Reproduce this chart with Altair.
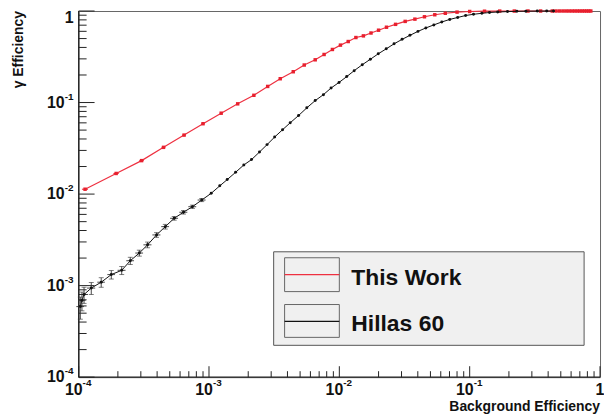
import altair as alt
import pandas as pd

# ---------------- data ----------------
series_names = ["This Work", "Hillas 60"]
series_colors = ["#e8202e", "#111111"]

red_x = [1.12e-4, 1.94e-4, 3.04e-4, 4.48e-4, 6.44e-4, 9.0e-4, 1.24e-3, 1.66e-3,
         2.21e-3, 2.82e-3, 3.52e-3, 4.43e-3, 5.38e-3, 6.53e-3, 7.64e-3, 8.85e-3,
         1.02e-2, 1.17e-2, 1.34e-2, 1.53e-2, 1.75e-2, 2.0e-2, 2.3e-2, 2.7e-2,
         3.2e-2, 3.8e-2, 4.5e-2, 5.4e-2, 6.5e-2, 8.0e-2, 0.10, 0.13, 0.17, 0.22,
         0.28, 0.35, 0.43, 0.46, 0.49, 0.52, 0.55, 0.58, 0.61, 0.64, 0.67, 0.70,
         0.73, 0.76, 0.79, 0.82, 0.85]
red_y = [0.0113, 0.0168, 0.0232, 0.0324, 0.0441, 0.0587, 0.0765, 0.0968,
         0.120, 0.150, 0.182, 0.217, 0.257, 0.293, 0.335, 0.380,
         0.424, 0.464, 0.513, 0.535, 0.575, 0.617, 0.665, 0.715,
         0.770, 0.815, 0.865, 0.910, 0.945, 0.972, 0.988, 0.995, 0.998, 0.999,
         1.0, 1.0, 1.0, 1.0, 1.0, 1.0, 1.0, 1.0, 1.0, 1.0, 1.0, 1.0,
         1.0, 1.0, 1.0, 1.0, 1.0]
red_xerr = [0.6e-5, 0.9e-5, 1.2e-5, 1.5e-5, 2.0e-5, 2.6e-5]

black_x = [1.03e-4, 1.06e-4, 1.10e-4, 1.25e-4, 1.49e-4, 1.78e-4, 2.14e-4, 2.49e-4,
           2.92e-4, 3.38e-4, 3.96e-4, 4.62e-4, 5.41e-4, 6.37e-4, 7.46e-4, 8.80e-4,
           1.04e-3, 1.21e-3, 1.38e-3, 1.60e-3, 1.85e-3, 2.12e-3, 2.44e-3, 2.79e-3,
           3.19e-3, 3.67e-3, 4.20e-3, 4.87e-3, 5.63e-3, 6.53e-3, 7.55e-3, 8.64e-3,
           9.95e-3, 1.14e-2, 1.30e-2, 1.50e-2, 1.73e-2, 1.99e-2, 2.29e-2, 2.63e-2,
           3.03e-2, 3.48e-2, 4.01e-2, 4.61e-2, 5.31e-2, 6.11e-2, 7.03e-2, 8.09e-2,
           9.31e-2, 0.107, 0.124, 0.142, 0.164, 0.195, 0.23, 0.27, 0.33, 0.39, 0.44]
black_y = [5.9e-4, 6.9e-4, 8.0e-4, 9.4e-4, 1.09e-3, 1.32e-3, 1.47e-3, 1.87e-3,
           2.27e-3, 2.79e-3, 3.58e-3, 4.41e-3, 5.44e-3, 6.33e-3, 7.28e-3, 8.61e-3,
           0.0102, 0.0123, 0.0144, 0.0173, 0.0208, 0.0238, 0.0288, 0.0347,
           0.0420, 0.0505, 0.0601, 0.0722, 0.0875, 0.105, 0.122, 0.144,
           0.166, 0.192, 0.223, 0.259, 0.297, 0.341, 0.386, 0.438,
           0.490, 0.542, 0.599, 0.653, 0.705, 0.759, 0.809, 0.850,
           0.893, 0.921, 0.944, 0.963, 0.975, 0.985, 0.992, 0.996, 0.998, 0.999, 1.0]
black_yerr = [1.6e-4, 1.6e-4, 1.6e-4, 1.4e-4, 1.3e-4, 1.4e-4, 1.5e-4, 1.7e-4,
              1.7e-4, 2.0e-4, 2.1e-4, 2.6e-4, 2.5e-4, 2.8e-4, 3.0e-4, 3.4e-4]
black_xerr = [0.7e-5, 0.7e-5, 0.8e-5, 0.9e-5, 1.0e-5, 1.2e-5, 1.5e-5, 1.7e-5,
              2.0e-5, 2.4e-5, 2.8e-5, 3.2e-5, 3.8e-5, 4.5e-5, 5.2e-5, 6.2e-5]

major_ticks = [1e-4, 1e-3, 1e-2, 1e-1, 1.0]
major_exps = ["-4", "-3", "-2", "-1"]
minor_ticks = [m * d for d in [1e-4, 1e-3, 1e-2, 1e-1] for m in range(2, 10)]

x_title = "Background Efficiency"
y_title = "\u03b3 Efficiency"

FONT = "Liberation Sans"
W, H = 524, 368

# ---------------- tables ----------------
red_df = pd.DataFrame({"x": red_x, "y": red_y})
black_df = pd.DataFrame({"x": black_x, "y": black_y})
n = len(black_yerr)
black_err = pd.DataFrame({
    "x": black_x[:n], "y": black_y[:n],
    "ylo": [a - b for a, b in zip(black_y[:n], black_yerr)],
    "yhi": [a + b for a, b in zip(black_y[:n], black_yerr)],
    "xlo": [a - b for a, b in zip(black_x[:n], black_xerr)],
    "xhi": [a + b for a, b in zip(black_x[:n], black_xerr)],
})
m = len(red_xerr)
red_err = pd.DataFrame({
    "y": red_y[:m],
    "xlo": [a - b for a, b in zip(red_x[:m], red_xerr)],
    "xhi": [a + b for a, b in zip(red_x[:m], red_xerr)],
})
lab_df = pd.DataFrame({"v": major_ticks[:4], "exp": major_exps})
one_df = pd.DataFrame({"v": [1.0], "t": ["1"]})
maj_df = pd.DataFrame({"v": major_ticks})
min_df = pd.DataFrame({"v": minor_ticks})
dummy = pd.DataFrame({"k": [0]})

xs = alt.Scale(type="log", domain=[1e-4, 1], nice=False)
ys = alt.Scale(type="log", domain=[1e-4, 1], nice=False)


def X(f):
    return alt.X(f"{f}:Q", scale=xs, axis=None)


def Y(f):
    return alt.Y(f"{f}:Q", scale=ys, axis=None)


layers = []

# frame axes lines (left, bottom)
layers.append(alt.Chart(dummy).mark_rule(color="#222", strokeWidth=1.2).encode(
    x=alt.value(0), y=alt.value(0), y2=alt.value(H)))
layers.append(alt.Chart(dummy).mark_rule(color="#222", strokeWidth=1.2).encode(
    x=alt.value(0), x2=alt.value(W), y=alt.value(H)))

# inward ticks
layers.append(alt.Chart(maj_df).mark_rule(color="#222").encode(
    y=Y("v"), x=alt.value(0), x2=alt.value(16)))
layers.append(alt.Chart(min_df).mark_rule(color="#222").encode(
    y=Y("v"), x=alt.value(0), x2=alt.value(8)))
layers.append(alt.Chart(maj_df).mark_rule(color="#222").encode(
    x=X("v"), y=alt.value(H), y2=alt.value(H - 11)))
layers.append(alt.Chart(min_df).mark_rule(color="#222").encode(
    x=X("v"), y=alt.value(H), y2=alt.value(H - 6)))

# tick labels: y axis
txt = dict(font=FONT, fontWeight="bold", color="#111")
layers.append(alt.Chart(lab_df).mark_text(align="right", baseline="middle", fontSize=16, **txt).encode(
    y=Y("v"), x=alt.value(-14), text=alt.value("10")))
layers.append(alt.Chart(lab_df).mark_text(align="left", baseline="middle", fontSize=10, dy=-6, **txt).encode(
    y=Y("v"), x=alt.value(-14), text="exp:N"))
layers.append(alt.Chart(one_df).mark_text(align="right", baseline="top", fontSize=16, **txt).encode(
    y=alt.value(-1), x=alt.value(-5), text="t:N"))
# tick labels: x axis
layers.append(alt.Chart(lab_df).mark_text(align="right", baseline="top", fontSize=16, dx=4, **txt).encode(
    x=X("v"), y=alt.value(H + 5), text=alt.value("10")))
layers.append(alt.Chart(lab_df).mark_text(align="left", baseline="top", fontSize=10, dx=4, **txt).encode(
    x=X("v"), y=alt.value(H + 1), text="exp:N"))
layers.append(alt.Chart(one_df).mark_text(align="center", baseline="top", fontSize=16, **txt).encode(
    x=X("v"), y=alt.value(H + 5), text="t:N"))

# axis titles
layers.append(alt.Chart(dummy).mark_text(align="right", baseline="top", fontSize=14, **txt).encode(
    x=alt.value(W), y=alt.value(H + 23), text=alt.value(x_title)))
layers.append(alt.Chart(dummy).mark_text(align="right", baseline="middle", angle=270, fontSize=14, **txt).encode(
    x=alt.value(-60), y=alt.value(0), text=alt.value(y_title)))

# red series
rc, bc = series_colors
layers.append(alt.Chart(red_df).mark_line(color="#ee3040", strokeWidth=1.2).encode(x=X("x"), y=Y("y")))
layers.append(alt.Chart(red_err).mark_rule(color=rc).encode(x=X("xlo"), x2="xhi:Q", y=Y("y")))
layers.append(alt.Chart(red_df).mark_point(shape="square", filled=True, size=12, color=rc, opacity=1).encode(
    x=X("x"), y=Y("y")))

# black series
layers.append(alt.Chart(black_df).mark_line(color=bc, strokeWidth=1).encode(x=X("x"), y=Y("y")))
layers.append(alt.Chart(black_err).mark_rule(color="#333", strokeWidth=0.9).encode(x=X("x"), y=Y("ylo"), y2="yhi:Q"))
layers.append(alt.Chart(black_err).mark_rule(color="#333", strokeWidth=0.9).encode(x=X("xlo"), x2="xhi:Q", y=Y("y")))
layers.append(alt.Chart(black_err).mark_tick(orient="horizontal", size=5, thickness=0.9, color="#333").encode(
    x=X("x"), y=Y("ylo")))
layers.append(alt.Chart(black_err).mark_tick(orient="horizontal", size=5, thickness=0.9, color="#333").encode(
    x=X("x"), y=Y("yhi")))
layers.append(alt.Chart(black_df).mark_point(shape="circle", filled=True, size=9, color=bc, opacity=1).encode(
    x=X("x"), y=Y("y")))

# legend box (drawn like the ROOT TLegend)
layers.append(alt.Chart(dummy).mark_rect(fill="#f0f0f0", stroke="#555", strokeWidth=1).encode(
    x=alt.value(196), x2=alt.value(508), y=alt.value(242), y2=alt.value(336)))
layers.append(alt.Chart(dummy).mark_rect(fill="#f0f0f0", stroke="#666", strokeWidth=1).encode(
    x=alt.value(207), x2=alt.value(262), y=alt.value(248), y2=alt.value(282)))
layers.append(alt.Chart(dummy).mark_rect(fill="#f0f0f0", stroke="#666", strokeWidth=1).encode(
    x=alt.value(207), x2=alt.value(262), y=alt.value(295), y2=alt.value(328)))
layers.append(alt.Chart(dummy).mark_rule(color="#ee3040", strokeWidth=1.2).encode(
    x=alt.value(207), x2=alt.value(262), y=alt.value(265)))
layers.append(alt.Chart(dummy).mark_rule(color=bc, strokeWidth=1.2).encode(
    x=alt.value(207), x2=alt.value(262), y=alt.value(312)))
layers.append(alt.Chart(dummy).mark_text(align="left", baseline="middle", fontSize=23, **txt).encode(
    x=alt.value(274), y=alt.value(268), text=alt.value(series_names[0])))
layers.append(alt.Chart(dummy).mark_text(align="left", baseline="middle", fontSize=23, **txt).encode(
    x=alt.value(274), y=alt.value(315), text=alt.value(series_names[1])))

chart = alt.layer(*layers).properties(
    width=W, height=H,
    autosize="none",
    padding={"left": 71, "top": 2, "right": 4, "bottom": 36},
    background="white",
).configure_view(stroke="#666", strokeWidth=1)

chart.save("out.html", embed_options={"renderer": "svg", "actions": False})
